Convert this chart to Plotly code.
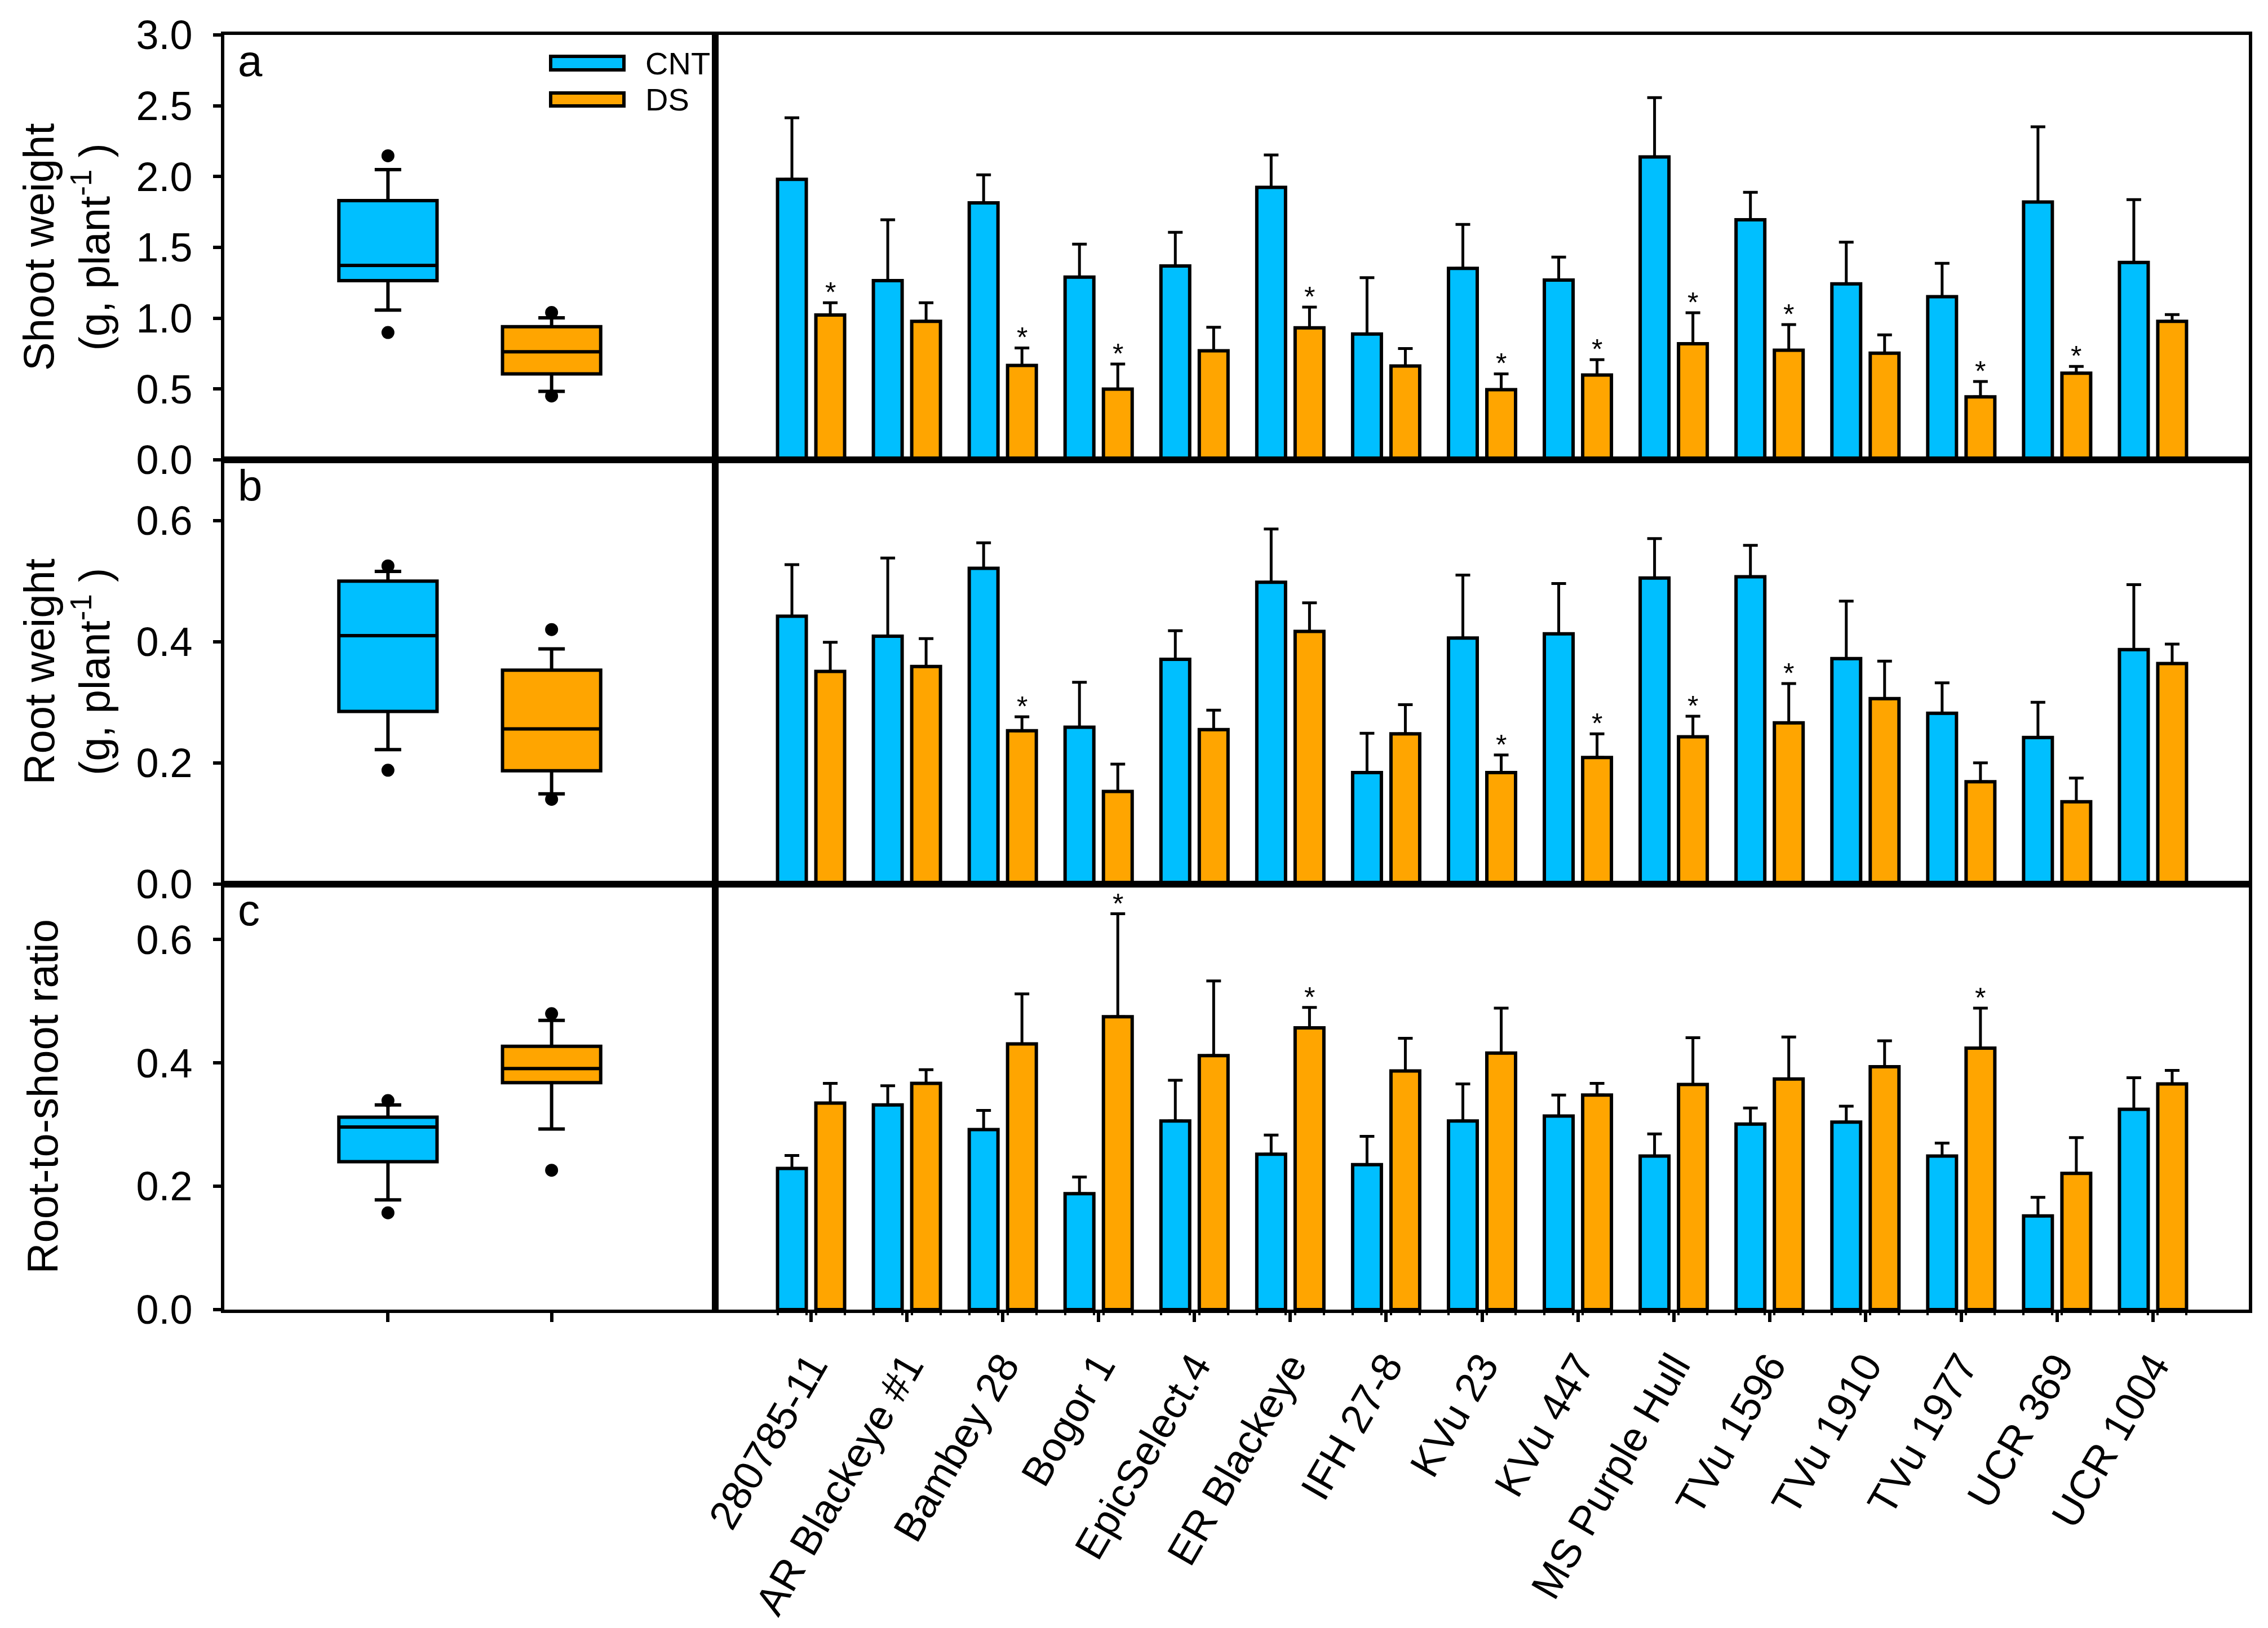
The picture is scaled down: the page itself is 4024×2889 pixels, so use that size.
import plotly.graph_objects as go
from plotly.subplots import make_subplots

cultivars = ["280785-11", "AR Blackeye #1", "Bambey 28", "Bogor 1", "EpicSelect.4",
             "ER Blackeye", "IFH 27-8", "KVu 23", "KVu 447", "MS Purple Hull",
             "TVu 1596", "TVu 1910", "TVu 1977", "UCR 369", "UCR 1004"]

# panel a: shoot weight (g plant-1), mean and SE
shoot_cnt = [1.98, 1.265, 1.814, 1.29, 1.369, 1.924, 0.888, 1.352, 1.269, 2.139, 1.695, 1.242, 1.152, 1.82, 1.394]
shoot_cnt_se = [0.435, 0.43, 0.198, 0.233, 0.237, 0.229, 0.398, 0.31, 0.162, 0.418, 0.194, 0.295, 0.236, 0.531, 0.443]
shoot_ds = [1.023, 0.978, 0.666, 0.499, 0.77, 0.932, 0.662, 0.495, 0.599, 0.82, 0.774, 0.753, 0.445, 0.612, 0.978]
shoot_ds_se = [0.086, 0.131, 0.124, 0.177, 0.166, 0.146, 0.124, 0.112, 0.108, 0.218, 0.181, 0.129, 0.108, 0.047, 0.048]
shoot_sig = [0, 2, 3, 5, 7, 8, 9, 10, 12, 13]

# panel b: root weight
root_cnt = [0.442, 0.409, 0.521, 0.259, 0.371, 0.498, 0.184, 0.406, 0.413, 0.505, 0.507, 0.372, 0.282, 0.242, 0.387]
root_cnt_se = [0.085, 0.129, 0.042, 0.074, 0.047, 0.088, 0.065, 0.104, 0.083, 0.065, 0.052, 0.095, 0.05, 0.058, 0.107]
root_ds = [0.351, 0.359, 0.253, 0.153, 0.255, 0.417, 0.248, 0.184, 0.209, 0.243, 0.266, 0.306, 0.169, 0.136, 0.364]
root_ds_se = [0.048, 0.046, 0.023, 0.045, 0.032, 0.047, 0.048, 0.029, 0.039, 0.034, 0.065, 0.062, 0.031, 0.039, 0.032]
root_sig = [2, 7, 8, 9, 10]

# panel c: root-to-shoot ratio
ratio_cnt = [0.229, 0.332, 0.292, 0.188, 0.306, 0.252, 0.235, 0.306, 0.314, 0.249, 0.301, 0.304, 0.249, 0.152, 0.325]
ratio_cnt_se = [0.021, 0.031, 0.031, 0.027, 0.066, 0.031, 0.046, 0.06, 0.034, 0.036, 0.026, 0.026, 0.021, 0.03, 0.051]
ratio_ds = [0.335, 0.367, 0.431, 0.475, 0.412, 0.457, 0.387, 0.416, 0.348, 0.365, 0.374, 0.394, 0.424, 0.221, 0.366]
ratio_ds_se = [0.032, 0.022, 0.081, 0.167, 0.121, 0.033, 0.053, 0.073, 0.019, 0.076, 0.068, 0.042, 0.065, 0.058, 0.022]
ratio_sig = [3, 5, 12]

# box summaries over all cultivars: q1, median, q3, lower whisker, upper whisker
shoot_box_cnt = [1.265, 1.373, 1.83, 1.057, 2.049]
shoot_box_ds = [0.607, 0.763, 0.94, 0.483, 1.003]
shoot_dots_cnt = [0.899, 2.147]
shoot_dots_ds = [0.451, 1.04]
root_box_cnt = [0.285, 0.41, 0.5, 0.222, 0.516]
root_box_ds = [0.187, 0.256, 0.353, 0.149, 0.388]
root_dots_cnt = [0.188, 0.525]
root_dots_ds = [0.14, 0.42]
ratio_box_cnt = [0.24, 0.296, 0.312, 0.178, 0.332]
ratio_box_ds = [0.368, 0.391, 0.427, 0.293, 0.469]
ratio_dots_cnt = [0.157, 0.339]
ratio_dots_ds = [0.226, 0.48]

BLUE = "#00BFFF"
ORANGE = "#FFA500"
FONT = "Liberation Sans, Arial, sans-serif"
W, H = 4024, 2889
LW = 6

fig = make_subplots(rows=3, cols=2, horizontal_spacing=0, vertical_spacing=0)

panels = [
    (1, shoot_cnt, shoot_cnt_se, shoot_ds, shoot_ds_se, shoot_sig,
     shoot_box_cnt, shoot_box_ds, shoot_dots_cnt, shoot_dots_ds),
    (2, root_cnt, root_cnt_se, root_ds, root_ds_se, root_sig,
     root_box_cnt, root_box_ds, root_dots_cnt, root_dots_ds),
    (3, ratio_cnt, ratio_cnt_se, ratio_ds, ratio_ds_se, ratio_sig,
     ratio_box_cnt, ratio_box_ds, ratio_dots_cnt, ratio_dots_ds),
]

annotations = []
for row, cnt, cnt_se, ds, ds_se, sig, bcnt, bds, dcnt, dds in panels:
    for pos, stats, dots, col in [(1, bcnt, dcnt, BLUE), (2, bds, dds, ORANGE)]:
        fig.add_trace(go.Box(
            x=[pos], q1=[stats[0]], median=[stats[1]], q3=[stats[2]],
            lowerfence=[stats[3]], upperfence=[stats[4]],
            width=0.6, whiskerwidth=0.27, fillcolor=col,
            line=dict(color="black", width=LW), boxpoints=False,
            showlegend=False, hoverinfo="skip"), row=row, col=1)
        fig.add_trace(go.Scatter(
            x=[pos] * len(dots), y=dots, mode="markers",
            marker=dict(color="black", size=23), showlegend=False),
            row=row, col=1)

    for vals, se, col in [(cnt, cnt_se, BLUE), (ds, ds_se, ORANGE)]:
        fig.add_trace(go.Bar(
            x=cultivars, y=vals,
            error_y=dict(type="data", array=se, arrayminus=[0] * len(se),
                         symmetric=False, color="black", thickness=5, width=13),
            marker=dict(color=col, line=dict(color="black", width=LW)),
            showlegend=False), row=row, col=2)

    xref = "x%d" % (row * 2)
    yref = "y%d" % (row * 2)
    for i in sig:
        annotations.append(dict(
            x=i + 0.2, y=ds[i] + ds_se[i], xref=xref, yref=yref, text="*",
            showarrow=False, yanchor="bottom", yshift=-12,
            font=dict(size=50, color="black", family=FONT)))

# axes
y_ranges = [[0, 3.0], [0, 0.7], [0, 0.69]]
y_dticks = [0.5, 0.2, 0.2]
y_dom = [[1 - 816 / H, 1 - 62 / H], [1 - 1569 / H, 1 - 816 / H], [1 - 2324 / H, 1 - 1569 / H]]
x_dom_left = [398 / W, 1269 / W]
x_dom_right = [1269 / W, 3990 / W]

axis_common = dict(showline=True, linecolor="black", linewidth=LW, mirror=True,
                   showgrid=False, zeroline=False, automargin=False)
for r in range(3):
    left = r * 2 + 1
    right = r * 2 + 2
    last = r == 2
    fig.layout["xaxis%d" % left if left > 1 else "xaxis"].update(
        domain=x_dom_left, range=[0, 3], showticklabels=False,
        tickvals=[1, 2] if last else [], ticks="outside" if last else "",
        ticklen=16, tickwidth=LW, tickcolor="black", **axis_common)
    fig.layout["yaxis%d" % left if left > 1 else "yaxis"].update(
        domain=y_dom[r], range=y_ranges[r], dtick=y_dticks[r], tick0=0,
        tickformat=".1f", ticks="outside", ticklen=14, tickwidth=LW,
        tickcolor="black", ticklabelstandoff=22,
        tickfont=dict(size=72, color="black", family=FONT), **axis_common)
    fig.layout["xaxis%d" % right].update(
        domain=x_dom_right, range=[-1, 15], showticklabels=last,
        ticks="outside" if last else "", ticklen=16, tickwidth=LW,
        tickcolor="black", tickangle=-60, ticklabelstandoff=6,
        tickfont=dict(size=73, color="black", family=FONT), **axis_common)
    fig.layout["yaxis%d" % right].update(
        domain=y_dom[r], range=y_ranges[r], showticklabels=False, ticks="",
        **axis_common)

# small ticks at the bar edges under panel c (overlay axis)
edge_ticks = []
for i in range(len(cultivars)):
    edge_ticks += [i - 0.35, i - 0.05, i + 0.05, i + 0.35]
fig.add_trace(go.Scatter(x=[-1], y=[0], xaxis="x7", yaxis="y6", mode="markers",
                         marker=dict(opacity=0), showlegend=False, hoverinfo="skip"))
fig.layout["xaxis7"] = dict(
    overlaying="x6", anchor="y6", domain=x_dom_right, range=[-1, 15],
    tickvals=edge_ticks, ticks="outside", ticklen=9, tickwidth=4,
    tickcolor="black", showticklabels=False, showline=False, showgrid=False,
    zeroline=False, automargin=False)

# panel letters
for r, letter in enumerate(["a", "b", "c"]):
    annotations.append(dict(
        x=420 / W, y=y_dom[r][1], xref="paper", yref="paper", text=letter,
        showarrow=False, xanchor="left", yanchor="top",
        font=dict(size=78, color="black", family=FONT)))

# y axis titles
annotations.append(dict(
    x=118 / W, y=sum(y_dom[0]) / 2, xref="paper", yref="paper",
    text="Shoot weight<br>(g, plant<sup>-1</sup> )", textangle=-90,
    showarrow=False, xanchor="center", yanchor="middle",
    font=dict(size=76, color="black", family=FONT)))
annotations.append(dict(
    x=118 / W, y=sum(y_dom[1]) / 2, xref="paper", yref="paper",
    text="Root weight<br>(g, plant<sup>-1</sup> )", textangle=-90,
    showarrow=False, xanchor="center", yanchor="middle",
    font=dict(size=76, color="black", family=FONT)))
annotations.append(dict(
    x=75 / W, y=sum(y_dom[2]) / 2, xref="paper", yref="paper",
    text="Root-to-shoot ratio", textangle=-90,
    showarrow=False, xanchor="center", yanchor="middle",
    font=dict(size=76, color="black", family=FONT)))

# legend drawn by hand (wide swatches)
shapes = []
for label, col, top, bot in [("CNT", BLUE, 100, 124), ("DS", ORANGE, 165, 188)]:
    shapes.append(dict(type="rect", xref="paper", yref="paper",
                       x0=977 / W, x1=1107 / W, y0=1 - bot / H, y1=1 - top / H,
                       fillcolor=col, line=dict(color="black", width=LW)))
    annotations.append(dict(
        x=1143 / W, y=1 - (top + bot) / 2 / H, xref="paper", yref="paper",
        text=label, showarrow=False, xanchor="left", yanchor="middle",
        font=dict(size=56, color="black", family=FONT)))

fig.update_layout(
    template="none",
    width=W, height=H, margin=dict(l=0, r=0, t=0, b=0, autoexpand=False),
    plot_bgcolor="white", paper_bgcolor="white",
    barmode="group", bargap=0.2, bargroupgap=0.25,
    font=dict(family=FONT, color="black"),
    annotations=annotations, shapes=shapes, showlegend=False)

fig.write_html("out.html", config={"displayModeBar": False},
               post_script="document.body.style.margin='0';")
